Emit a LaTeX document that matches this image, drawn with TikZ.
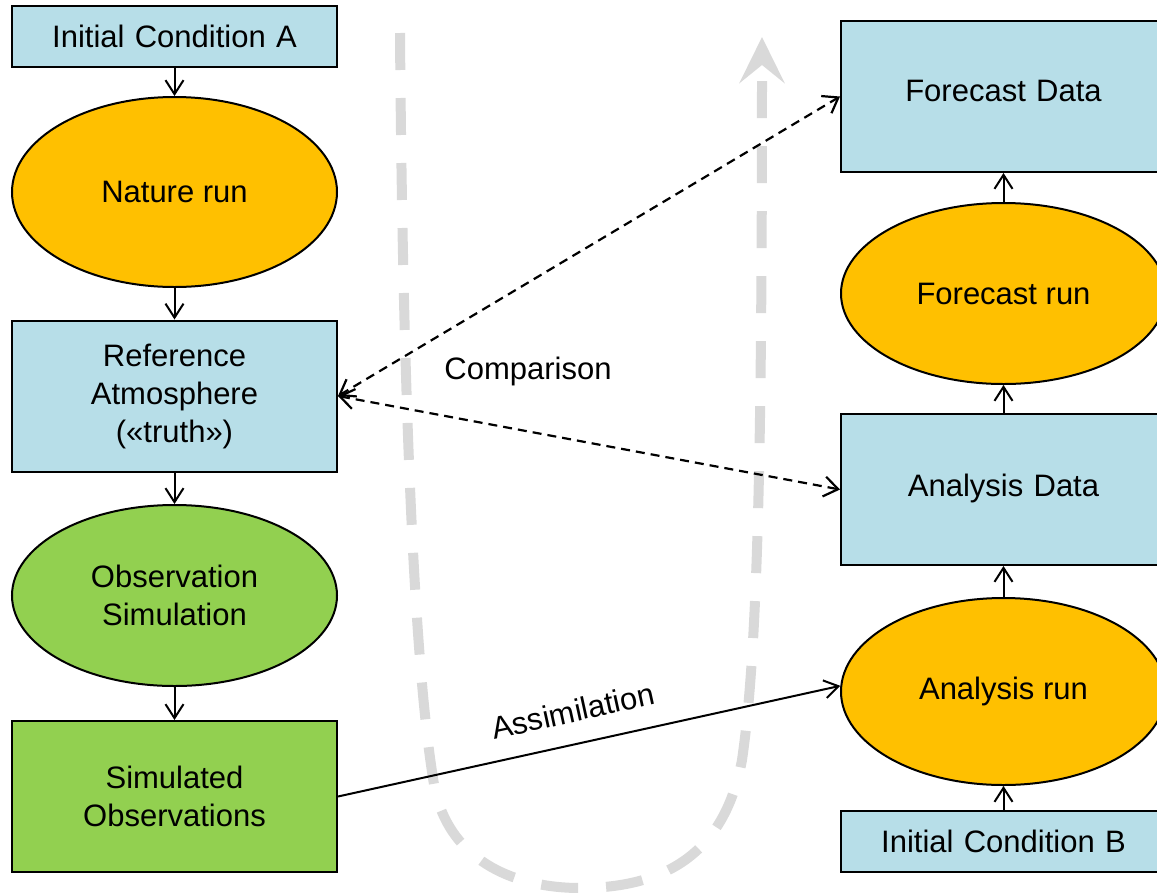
\documentclass[tikz,border=0pt]{standalone}
\usepackage{fontspec}
\setmainfont{Liberation Sans}
\usetikzlibrary{shapes.geometric,arrows.meta}
\definecolor{boxblue}{HTML}{B7DEE8}
\definecolor{runorange}{HTML}{FFC000}
\definecolor{simgreen}{HTML}{92D050}
\definecolor{flowgray}{HTML}{D9D9D9}
\begin{document}
\begin{tikzpicture}[x=1pt,y=-1pt,
  every node/.style={font=\fontsize{31}{38}\selectfont},
  datbox/.style={draw, line width=2pt, fill=boxblue, minimum width=325pt, text width=315pt, align=center, inner sep=0pt},
  runell/.style={draw, line width=2pt, ellipse, fill=runorange, minimum width=325pt, inner sep=0pt, align=center},
  flow/.style={line width=2pt, -{Straight Barb[length=14pt,width=18pt,line width=2pt]}},
  cmp/.style={line width=2.2pt, dash pattern=on 9pt off 6pt, {Straight Barb[length=14pt,width=20pt,line width=2.2pt]}-{Straight Barb[length=14pt,width=20pt,line width=2.2pt]}},
  bigflow/.style={line width=10pt, color=flowgray, dash pattern=on 37pt off 28pt, -{Stealth[length=46pt,width=45pt,inset=18pt]}},
  lbl/.style={inner sep=0pt}
]
\useasboundingbox (0,0) rectangle (1157,892);

% big gray U-shaped flow arrow (behind everything)
\draw[bigflow] (400,33) .. controls (402,300) and (410,650) .. (435,790)
  .. controls (452,865) and (520,888) .. (580,888)
  .. controls (680,888) and (727,840) .. (742,760)
  .. controls (758,650) and (762,450) .. (762,37);

% left column
\node[datbox, minimum height=61pt] (ica) at (174.5,36.5) {Initial Condition A};
\node[runell, minimum height=190pt] (nr) at (174.5,192) {Nature run};
\node[datbox, minimum height=151pt] (ref) at (174.5,396) {Reference\\Atmosphere\\(«truth»)};
\node[runell, fill=simgreen, minimum height=181pt] (os) at (174.5,595.5) {Observation\\Simulation};
\node[datbox, fill=simgreen, minimum height=151pt] (so) at (174.5,796.5) {Simulated\\Observations};

% right column
\node[datbox, minimum height=151pt] (fd) at (1003.5,96.5) {\raisebox{12pt}{Forecast Data}};
\node[runell, minimum height=181pt] (fr) at (1003.5,293.5) {Forecast run};
\node[datbox, minimum height=151pt] (ad) at (1003.5,489.5) {\raisebox{8pt}{Analysis Data}};
\node[runell, minimum height=187pt] (ar) at (1003.5,691.5) {Analysis run};
\node[datbox, minimum height=61pt] (icb) at (1003.5,841.5) {Initial Condition B};

% vertical flows
\draw[flow] (ica) -- (nr);
\draw[flow] (nr) -- (ref);
\draw[flow] (ref) -- (os);
\draw[flow] (os) -- (so);
\draw[flow] (icb) -- (ar);
\draw[flow] (ar) -- (ad);
\draw[flow] (ad) -- (fr);
\draw[flow] (fr) -- (fd);

% comparison
\draw[cmp] (ref.east) -- (fd.west);
\draw[cmp] (ref.east) -- (ad.west);
\node[lbl] (cmplbl) at (528,371) {Comparison};

% assimilation
\draw[flow] (so.east) -- (ar.178);
\node[lbl, rotate=12.4] (asslbl) at (573,711) {Assimilation};
\end{tikzpicture}
\end{document}
